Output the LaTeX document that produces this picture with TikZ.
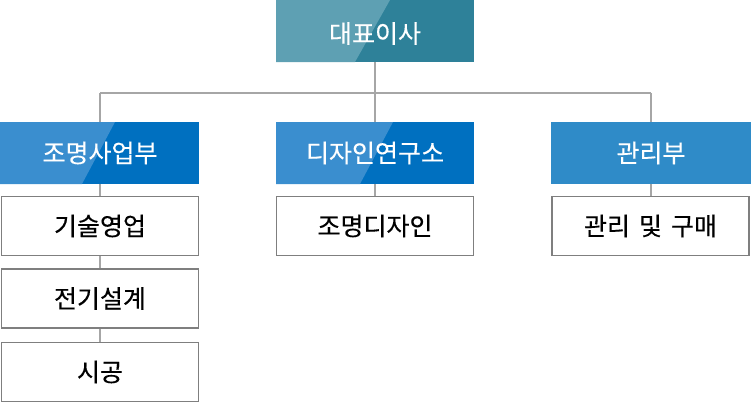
\documentclass[tikz,border=0pt]{standalone}
\usepackage{fontspec}
\newfontfamily\kr[FakeBold=0.3]{Noto Sans CJK KR}
\definecolor{tealR}{HTML}{2E8199}
\definecolor{tealL}{HTML}{5EA0B3}
\definecolor{blueR}{HTML}{0070C0}
\definecolor{blueL}{HTML}{3A8ECF}
\definecolor{mgmt}{HTML}{2F8BC8}
\definecolor{lineg}{HTML}{A6A6A6}
\definecolor{boxg}{HTML}{7F7F7F}
\tikzset{
  lbl/.style={font=\kr\fontsize{25}{28}\selectfont, text=white},
  dlbl/.style={font=\kr\fontsize{25}{28}\selectfont, text=black},
  wbox/.style={draw=boxg, line width=1.5pt, fill=white, minimum width=197pt, minimum height=59pt, inner sep=0pt},
  conn/.style={draw=lineg, line width=2pt},
}
\begin{document}
\begin{tikzpicture}[x=1pt,y=-1pt]
\useasboundingbox (0,0) rectangle (751,413);
% connectors
\coordinate (hl) at (100,93);
\coordinate (hm) at (375,93);
\coordinate (hr) at (651,93);
\draw[conn] (375,31) -- (hm);
\draw[conn] (hl) -- (hr);
\draw[conn] (hl) -- (100,153);
\draw[conn] (hm) -- (375,153);
\draw[conn] (hr) -- (651,153);
\draw[conn] (100,153) -- (100,372);
\draw[conn] (375,153) -- (375,226);
\draw[conn] (651,153) -- (651,226);
% top box
\fill[tealR] (276,0) rectangle (474,62);
\fill[tealL] (276,0) -- (390,0) -- (355,62) -- (276,62) -- cycle;
\node[lbl] (ceo) at (375,33.5) {대표이사};
% level 2
\fill[blueR] (0,122) rectangle (199,184);
\fill[blueL] (0,122) -- (115,122) -- (82,184) -- (0,184) -- cycle;
\node[lbl] (d1) at (100,153) {조명사업부};
\fill[blueR] (276,122) rectangle (474,184);
\fill[blueL] (276,122) -- (393,122) -- (360,184) -- (276,184) -- cycle;
\node[lbl] (d2) at (375,153) {디자인연구소};
\fill[mgmt] (551,122) rectangle (751,184);
\node[lbl] (d3) at (651,153) {관리부};
% level 3
\node[wbox, dlbl] (a1) at (100,226) {기술영업};
\node[wbox, dlbl] (a2) at (100,298.5) {전기설계};
\node[wbox, dlbl] (a3) at (100,372) {시공};
\node[wbox, dlbl] (b1) at (375,226) {조명디자인};
\node[wbox, dlbl] (c1) at (650.5,226) {관리\hspace{9pt}및\hspace{9pt}구매};
\end{tikzpicture}
\end{document}
